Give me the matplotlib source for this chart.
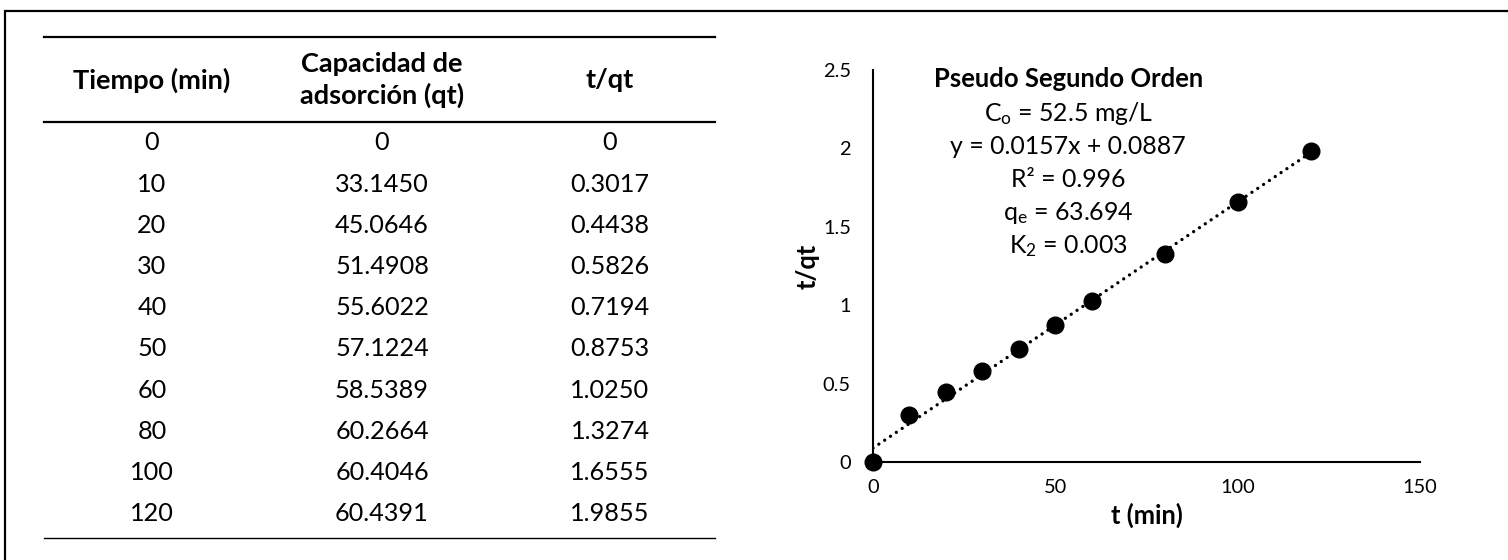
import matplotlib
matplotlib.use("Agg")
import matplotlib.pyplot as plt
from matplotlib.lines import Line2D
from matplotlib.patches import Rectangle

plt.rcParams['font.family'] = ['Lato', 'DejaVu Sans']
plt.rcParams['mathtext.default'] = 'regular'

# ---- data ----
tiempo = [0, 10, 20, 30, 40, 50, 60, 80, 100, 120]
capacidad = ["0", "33.1450", "45.0646", "51.4908", "55.6022", "57.1224",
             "58.5389", "60.2664", "60.4046", "60.4391"]
t_qt_labels = ["0", "0.3017", "0.4438", "0.5826", "0.7194", "0.8753",
               "1.0250", "1.3274", "1.6555", "1.9855"]
t_qt = [0, 0.3017, 0.4438, 0.5826, 0.7194, 0.8753, 1.0250, 1.3274, 1.6555, 1.9855]
headers = ["Tiempo (min)", "Capacidad de\nadsorción (qt)", "t/qt"]
slope, intercept = 0.0157, 0.0887
x_ticks = [0, 50, 100, 150]
y_ticks = [0, 0.5, 1, 1.5, 2, 2.5]
y_tick_labels = ["0", "0.5", "1", "1.5", "2", "2.5"]
annot_title = "Pseudo Segundo Orden"
annot_lines = ["C$_{o}$ = 52.5 mg/L", "y = 0.0157x + 0.0887", "R² = 0.996",
               "q$_{e}$ = 63.694", "K$_{2}$ = 0.003"]

W, H = 1508, 560
fig = plt.figure(figsize=(W / 100, H / 100), dpi=100)
renderer = fig.canvas.get_renderer()


def fx(px):
    return px / W


def fy(py):
    return 1 - py / H


def fit_size(text, target_px, **kw):
    t = fig.text(0, 0, text, fontsize=10, **kw)
    w = t.get_window_extent(renderer).width
    t.remove()
    return 10 * target_px / w


body_fs = fit_size("60.4391", 94)
head_fs = fit_size("Tiempo (min)", 158, fontweight='bold')
tick_fs = fit_size("150", 35)
title_fs = fit_size(annot_title, 270, fontweight='bold')
ann_fs = fit_size("y = 0.0157x + 0.0887", 234)
xlab_fs = fit_size("t (min)", 72, fontweight='bold')

# outer border
fig.add_artist(Rectangle((fx(5), fy(565)), fx(1515 - 5), fy(11) - fy(565),
                         fill=False, edgecolor='black', linewidth=1.6,
                         transform=fig.transFigure))

# ---- table ----
col_x = [152, 382, 610]
top_line, head_line, bot_line = 37, 122, 538
row_y0, row_dy = 143, 41.2
for xx, h in zip(col_x, headers):
    fig.text(fx(xx), fy(80), h, ha='center', va='center', fontsize=head_fs,
             fontweight='bold', linespacing=1.28)

for i, (a, b, c) in enumerate(zip(tiempo, capacidad, t_qt_labels)):
    yy = fy(row_y0 + i * row_dy)
    fig.text(fx(col_x[0]), yy, str(a), ha='center', va='center', fontsize=body_fs)
    fig.text(fx(col_x[1]), yy, b, ha='center', va='center', fontsize=body_fs)
    fig.text(fx(col_x[2]), yy, c, ha='center', va='center', fontsize=body_fs)

for ly, lw in [(top_line, 1.6), (head_line, 1.6), (bot_line, 1.0)]:
    fig.add_artist(Line2D([fx(44), fx(715)], [fy(ly), fy(ly)], color='black',
                          linewidth=lw, transform=fig.transFigure))

# ---- chart ----
ax = fig.add_axes([fx(873), fy(462), fx(1420 - 873), fy(70) - fy(462)])
ax.set_xlim(0, 150)
ax.set_ylim(0, 2.5)
for s in ['top', 'right']:
    ax.spines[s].set_visible(False)
for s in ['left', 'bottom']:
    ax.spines[s].set_linewidth(1.5)
    ax.spines[s].set_color('black')
ax.set_xticks(x_ticks)
ax.set_yticks(y_ticks)
ax.set_yticklabels(y_tick_labels)
ax.tick_params(axis='both', length=0, labelsize=tick_fs)
ax.tick_params(axis='y', pad=16)
ax.tick_params(axis='x', pad=12)

fit_x = [tiempo[0], tiempo[-1]]
fit_y = [slope * v + intercept for v in fit_x]
ax.plot(fit_x, fit_y, linestyle=(0, (0.01, 2.1)), dash_capstyle='round',
        color='black', linewidth=2.4, zorder=2)
ax.plot(tiempo, t_qt, 'o', color='black', markersize=12, clip_on=False,
        zorder=3)

ax.set_xlabel("t (min)", fontsize=xlab_fs, fontweight='bold')
ax.xaxis.set_label_coords(0.5, -53 / 392)
ax.xaxis.label.set_va('center')
ax.set_ylabel("t/qt", fontsize=xlab_fs, fontweight='bold')
ax.yaxis.set_label_coords(-65 / 547, 0.5)
ax.yaxis.label.set_va('center')

# annotation block (positions in data space, centred)
ann_cx = 53.5
ax.text(ann_cx, 2.44, annot_title, ha='center', va='center',
        fontsize=title_fs, fontweight='bold')
ann_y = [2.225, 2.01, 1.80, 1.585, 1.375]
for yy, t in zip(ann_y, annot_lines):
    ax.text(ann_cx, yy, t, ha='center', va='center', fontsize=ann_fs)

fig.savefig("out.png", dpi=100)
